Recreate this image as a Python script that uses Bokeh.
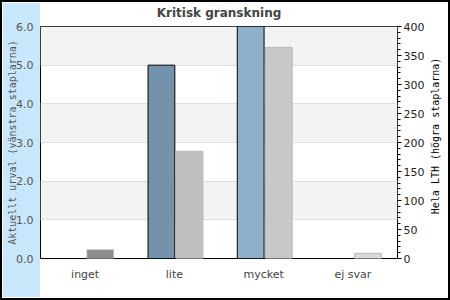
import math
from bokeh.plotting import figure
from bokeh.layouts import row
from bokeh.models import (Range1d, LinearAxis, FixedTicker, NumeralTickFormatter,
                          ColumnDataSource, FactorRange, Label)
from bokeh.transform import dodge
from bokeh.embed import file_html
from bokeh.resources import INLINE

categories = ["inget", "lite", "mycket", "ej svar"]
urval = [0.0, 5.0, 6.0, 0.0]
lth = [15, 185, 364, 9]
urval_colors = ["#7393ad", "#7393ad", "#8fb0cb", "#8fb0cb"]
lth_colors = ["#8c8c8c", "#bfbfbf", "#c8c8c8", "#d9d9d9"]

src = ColumnDataSource(dict(cat=categories, urval=urval, lth=lth,
                            uc=urval_colors, lc=lth_colors))

p = figure(width=427, height=300, x_range=FactorRange(*categories),
           y_range=Range1d(0, 6), output_backend="svg", toolbar_location=None,
           title="Kritisk granskning")
p.min_border_left = 40
p.min_border_right = 29
p.min_border_top = 25
p.min_border_bottom = 42
p.border_fill_color = None
p.background_fill_color = "white"
p.outline_line_color = "black"
p.outline_line_width = 1

p.title.text_font = "DejaVu Sans"
p.title.text_font_size = "12px"
p.title.text_font_style = "bold"
p.title.text_color = "#444444"
p.title.align = "center"
p.title.offset = 6
p.title.vertical_align = "top"

p.extra_y_ranges = {"lth": Range1d(0, 400)}

p.vbar(x=dodge("cat", -0.145, range=p.x_range), top="urval", width=0.30,
       source=src, fill_color="uc", line_color="black", line_width=1)
p.vbar(x=dodge("cat", 0.17, range=p.x_range), top="lth", width=0.30,
       source=src, fill_color="lc", line_color="#b8b8b8", line_width=1,
       y_range_name="lth")

# grid
p.xgrid.visible = False
p.ygrid.ticker = FixedTicker(ticks=[0, 1, 2, 3, 4, 5, 6])
p.ygrid.grid_line_color = "#e0e0e0"
p.ygrid.band_fill_color = "#f3f3f3"
p.ygrid.band_fill_alpha = 1

# left axis
la = p.yaxis[0]
la.ticker = FixedTicker(ticks=[0, 1, 2, 3, 4, 5, 6])
la.formatter = NumeralTickFormatter(format="0.0")
la.axis_line_color = None
la.major_tick_line_color = None
la.minor_tick_line_color = None
la.major_tick_out = 0
la.major_tick_in = 0
la.minor_tick_out = 0
la.major_label_text_font = "DejaVu Sans"
la.major_label_text_font_size = "11px"
la.major_label_text_color = "#555555"
la.major_label_standoff = 7
la.axis_label = "Aktuellt urval (vänstra staplarna)"
la.axis_label_text_font = "DejaVu Sans Mono"
la.axis_label_text_font_size = "10px"
la.axis_label_text_font_style = "normal"
la.axis_label_text_color = "#555555"
la.axis_label_standoff = -5

# right axis
ra = LinearAxis(y_range_name="lth",
                ticker=FixedTicker(ticks=list(range(0, 401, 50)),
                                   minor_ticks=list(range(0, 401, 10))))
ra.axis_line_color = None
ra.major_tick_line_color = "black"
ra.major_tick_out = 4
ra.major_tick_in = 0
ra.minor_tick_line_color = "black"
ra.minor_tick_out = 3
ra.minor_tick_in = 0
ra.major_label_text_font = "DejaVu Sans"
ra.major_label_text_font_size = "11px"
ra.major_label_text_color = "#222222"
ra.major_label_standoff = 2
p.add_layout(ra, "right")

# x axis
xa = p.xaxis[0]
xa.axis_line_color = None
xa.major_tick_line_color = None
xa.minor_tick_line_color = None
xa.major_label_text_font = "DejaVu Sans"
xa.major_label_text_font_size = "11px"
xa.major_label_text_color = "#444444"
xa.major_label_standoff = 3

# narrow strip on the right carrying the right-axis title (reads bottom to top)
p2 = figure(width=23, height=300, x_range=Range1d(0, 23), y_range=Range1d(0, 300),
            output_backend="svg", toolbar_location=None,
            x_axis_location=None, y_axis_location=None, min_border=0)
p2.grid.visible = False
p2.outline_line_color = None
p2.background_fill_color = None
p2.border_fill_color = None
p2.add_layout(Label(x=8, y=158.5, text="Hela LTH (högra staplarna)",
                    angle=math.pi / 2, text_align="center",
                    text_baseline="middle", text_font="DejaVu Sans Mono",
                    text_font_size="10px", text_color="black"))

layout = row(p, p2, spacing=0)
layout.styles = {
    "background-color": "white",
    "background-image": "linear-gradient(#c9e7fb, #c9e7fb)",
    "background-size": "37px 294px",
    "background-position": "3px 3px",
    "background-repeat": "no-repeat",
    "box-shadow": "inset 0 0 0 2px black",
}

open("out.html", "w").write(file_html(layout, INLINE))
